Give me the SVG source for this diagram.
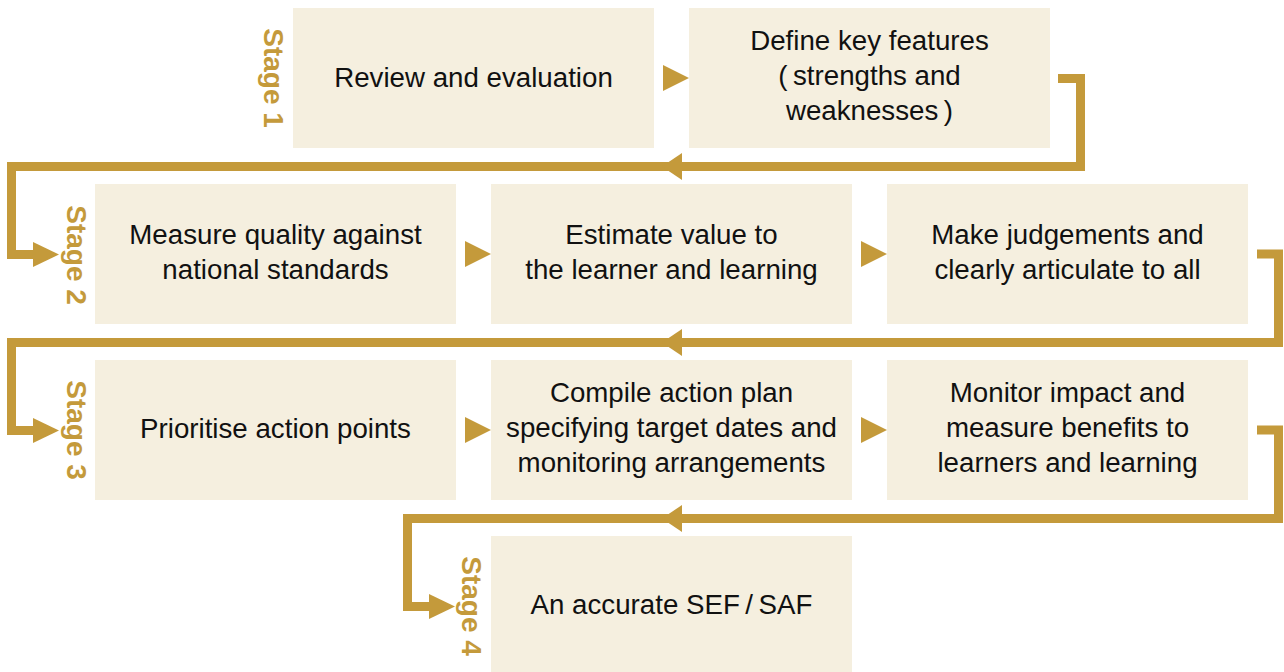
<svg xmlns="http://www.w3.org/2000/svg" width="1284" height="672" viewBox="0 0 1284 672">
  <style>
    .box { fill: #F5EFDF; }
    .label { font-family: "Liberation Sans", Arial, sans-serif; font-size: 27.7px; fill: #111111; text-anchor: middle; }
    .stage { font-family: "Liberation Sans", Arial, sans-serif; font-size: 28px; font-weight: bold; fill: #C49A3B; text-anchor: middle; }
    .wire { fill: none; stroke: #C49A3B; stroke-width: 9; stroke-linejoin: miter; }
    .head { fill: #C49A3B; }
  </style>
  <rect width="1284" height="672" fill="#FFFFFF"/>

  <!-- Stage labels -->
  <g id="stage-labels">
    <text class="stage" transform="translate(264,78) rotate(90)">Stage 1</text>
    <text class="stage" transform="translate(67,255) rotate(90)">Stage 2</text>
    <text class="stage" transform="translate(67,430) rotate(90)">Stage 3</text>
    <text class="stage" transform="translate(462,606) rotate(90)">Stage 4</text>
  </g>

  <!-- Stage 1 -->
  <g id="review">
    <rect class="box" x="293" y="8" width="361" height="140"/>
    <text class="label" x="473.5" y="87">Review and evaluation</text>
  </g>
  <g id="define-features">
    <rect class="box" x="689" y="8" width="361" height="140"/>
    <text class="label" x="869.5" y="50">Define key features</text>
    <text class="label" x="869.5" y="85">(&#8201;strengths and</text>
    <text class="label" x="869.5" y="120">weaknesses&#8201;)</text>
  </g>

  <!-- Stage 2 -->
  <g id="measure-quality">
    <rect class="box" x="95" y="184" width="361" height="140"/>
    <text class="label" x="275.5" y="244">Measure quality against</text>
    <text class="label" x="275.5" y="279">national standards</text>
  </g>
  <g id="estimate-value">
    <rect class="box" x="491" y="184" width="361" height="140"/>
    <text class="label" x="671.5" y="244">Estimate value to</text>
    <text class="label" x="671.5" y="279">the learner and learning</text>
  </g>
  <g id="make-judgements">
    <rect class="box" x="887" y="184" width="361" height="140"/>
    <text class="label" x="1067.5" y="244">Make judgements and</text>
    <text class="label" x="1067.5" y="279">clearly articulate to all</text>
  </g>

  <!-- Stage 3 -->
  <g id="prioritise">
    <rect class="box" x="95" y="360" width="361" height="140"/>
    <text class="label" x="275.5" y="438">Prioritise action points</text>
  </g>
  <g id="action-plan">
    <rect class="box" x="491" y="360" width="361" height="140"/>
    <text class="label" x="671.5" y="402">Compile action plan</text>
    <text class="label" x="671.5" y="437">specifying target dates and</text>
    <text class="label" x="671.5" y="472">monitoring arrangements</text>
  </g>
  <g id="monitor-impact">
    <rect class="box" x="887" y="360" width="361" height="140"/>
    <text class="label" x="1067.5" y="402">Monitor impact and</text>
    <text class="label" x="1067.5" y="437">measure benefits to</text>
    <text class="label" x="1067.5" y="472">learners and learning</text>
  </g>

  <!-- Stage 4 -->
  <g id="sef-saf">
    <rect class="box" x="491" y="536" width="361" height="136"/>
    <text class="label" x="671.5" y="614">An accurate SEF&#8201;/&#8201;SAF</text>
  </g>

  <!-- Connectors -->
  <g id="connectors">
    <!-- arrows between neighbouring boxes -->
    <polygon class="head" points="663,65 689,78 663,91"/>
    <polygon class="head" points="465,241 491,254 465,267"/>
    <polygon class="head" points="861,241 887,254 861,267"/>
    <polygon class="head" points="465,417 491,430 465,443"/>
    <polygon class="head" points="861,417 887,430 861,443"/>

    <!-- stage 1 to stage 2 -->
    <path class="wire" d="M1058,78.5 H1080.5 V166.5 H11.5 V254.5 H35"/>
    <polygon class="head" points="662,166.5 682,153 682,180"/>
    <polygon class="head" points="33,242 59,254.5 33,267"/>

    <!-- stage 2 to stage 3 -->
    <path class="wire" d="M1257,254 H1278.5 V342.5 H11.5 V430.5 H35"/>
    <polygon class="head" points="662,342.5 682,329 682,356"/>
    <polygon class="head" points="33,418 59,430.5 33,443"/>

    <!-- stage 3 to stage 4 -->
    <path class="wire" d="M1257,430 H1278.5 V518.5 H407.5 V606.5 H431"/>
    <polygon class="head" points="662,518.5 682,505 682,532"/>
    <polygon class="head" points="429,594 455,606.5 429,619"/>
  </g>
</svg>
